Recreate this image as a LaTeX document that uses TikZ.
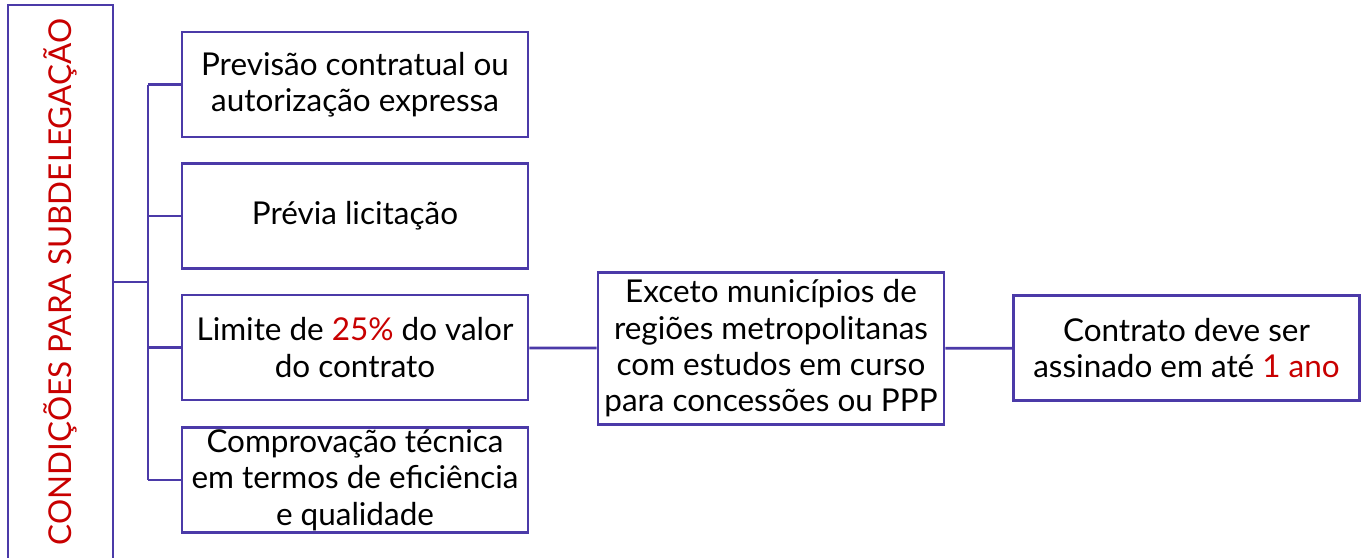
\documentclass[tikz,border=0pt]{standalone}
\usepackage{fontspec}
\setmainfont{Lato}
\definecolor{boxblue}{RGB}{75,58,168}
\definecolor{accentred}{RGB}{200,0,0}

\begin{document}
\begin{tikzpicture}[x=0.75pt, y=-0.75pt,
  every node/.style = {font=\fontsize{23.6}{27.2}\selectfont, align=center, inner sep=0pt},
  cond/.style = {draw=boxblue, line width=2.1pt, rotate=90, minimum width=415.5pt, minimum height=78.75pt, text=accentred},
  item/.style = {draw=boxblue, line width=2.1pt, minimum width=259.5pt, minimum height=78.75pt},
  tall/.style = {item, minimum height=114pt},
  link/.style = {draw=boxblue, line width=2.1pt},
  ]
  \useasboundingbox (0,0) rectangle (1366,557);
  \node[cond] (conds) at (60.5,282) {CONDIÇÕES PARA SUBDELEGAÇÃO};
  \node[item] (prev) at (355,84.5) {Previsão contratual ou\\autorização expressa};
  \node[item] (lic) at (355,216) {Prévia licitação};
  \node[item] (lim) at (355,347.5) {Limite de \textcolor{accentred}{25\%} do valor\\do contrato};
  \node[item] (comp) at (355,480) {Comprovação técnica\\em termos de eficiência\\e qualidade};
  \node[tall] (exc) at (771,348.5) {Exceto municípios de\\regiões metropolitanas\\com estudos em curso\\para concessões ou PPP};
  \node[item] (ass) at (1186.5,348) {Contrato deve ser\\assinado em até \textcolor{accentred}{1 ano}};
  \coordinate (hub) at (148,282);
  % tronco
  \draw[link] (conds.south |- hub) -- (hub);
  \draw[link] (prev.west -| hub) -- (comp.west -| hub);
  \foreach \n in {prev, lic, lim, comp}
    \draw[link] (\n.west -| hub) -- (\n.west);
  \draw[link] (lim) -- (exc);
  \draw[link] (exc) -- (ass);
\end{tikzpicture}
\end{document}
